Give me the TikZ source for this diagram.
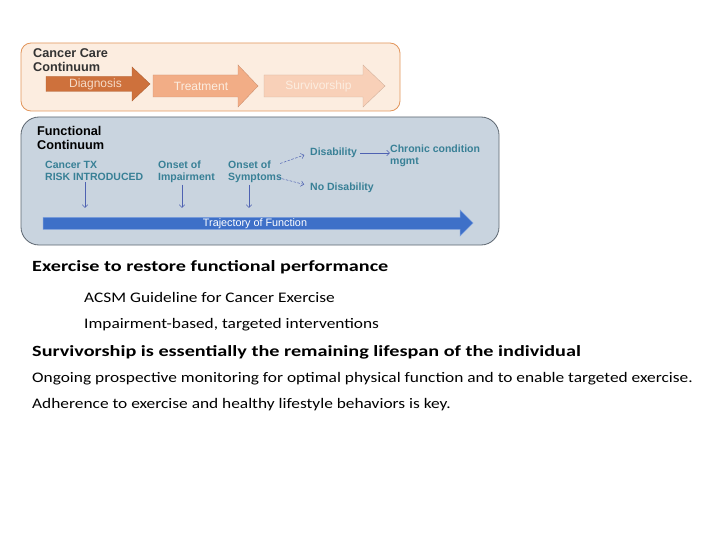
\documentclass[tikz,border=0pt]{standalone}
\usepackage{fontspec}
\setmainfont{Carlito}
\newfontfamily\arialfont{Liberation Sans}
\newfontfamily\headfont[FakeStretch=1.295]{Carlito}
\newfontfamily\bodyfont[FakeStretch=1.188]{Carlito}
\usetikzlibrary{arrows.meta,positioning}

\definecolor{carebg}{RGB}{252,237,224}
\definecolor{careline}{RGB}{226,150,92}
\definecolor{diagfill}{RGB}{206,113,60}
\definecolor{treatfill}{RGB}{242,173,134}
\definecolor{survfill}{RGB}{248,208,184}
\definecolor{funcbg}{RGB}{201,212,223}
\definecolor{funcline}{RGB}{92,102,112}
\definecolor{labteal}{RGB}{56,128,150}
\definecolor{linkblue}{RGB}{78,98,178}
\definecolor{trajfill}{RGB}{62,112,200}
\definecolor{trajline}{RGB}{125,160,222}

\begin{document}
\begin{tikzpicture}[x=1pt,y=-1pt,>={Straight Barb[length=3pt,width=5.5pt]},
  panel/.style={line width=0.8pt,inner sep=0pt},
  paneltitle/.style={anchor=north west,align=left,inner sep=0pt,font=\arialfont\bfseries\fontsize{12.7}{14}\selectfont},
  chevtext/.style={inner sep=0pt,font=\arialfont\fontsize{12}{14}\selectfont},
  stagelabel/.style={anchor=north west,align=left,inner sep=0pt,text=labteal,font=\arialfont\bfseries\fontsize{10.5}{12}\selectfont},
  link/.style={->,draw=linkblue,line width=0.5pt},
  headline/.style={anchor=base west,inner sep=0pt,font=\headfont\bfseries\fontsize{15.6}{18}\selectfont},
  bodyline/.style={anchor=base west,inner sep=0pt,font=\bodyfont\fontsize{14.6}{17}\selectfont}]
\useasboundingbox (0,0) rectangle (720,540);

% cancer care continuum
\node[panel,draw=careline,fill=carebg,rounded corners=10pt,minimum width=379pt,minimum height=68pt] (care) at (210.5,77) {};
\node[paneltitle,text=black!80] (care_t) at (33,48) {Cancer Care\\Continuum};
\filldraw[fill=diagfill,draw=diagfill!85!black,line width=0.4pt] (46,76.5) -- (132,76.5) -- (132,67) -- (150,84) -- (132,101) -- (132,91.5) -- (46,91.5) -- cycle;
\node[chevtext,text=carebg!85!diagfill] (diag) at (95.5,84) {Diagnosis};
\filldraw[fill=treatfill,draw=treatfill!85!black,line width=0.4pt] (153,75) -- (238,75) -- (238,65) -- (258,86) -- (238,107) -- (238,97) -- (153,97) -- cycle;
\node[chevtext,text=carebg] (treat) at (201,86.5) {Treatment};
\filldraw[fill=survfill,draw=survfill!85!black,line width=0.4pt] (264,75) -- (363,75) -- (363,65) -- (385,86) -- (363,107) -- (363,97) -- (264,97) -- cycle;
\node[chevtext,text=carebg] (surv) at (318.5,86.5) {Survivorship};

% functional continuum
\node[panel,draw=funcline,fill=funcbg,rounded corners=18pt,minimum width=478pt,minimum height=128pt] (func) at (260,181) {};
\node[paneltitle,text=black] (func_t) at (37,126) {Functional\\Continuum};
\node[stagelabel] (tx) at (45,160.5) {Cancer TX\\RISK INTRODUCED};
\node[stagelabel] (imp) at (158,160.5) {Onset of\\Impairment};
\node[stagelabel] (sym) at (228,160.5) {Onset of\\Symptoms};
\node[stagelabel,anchor=west] (dis) at (310,153) {Disability};
\node[stagelabel,anchor=west] (nodis) at (310,188) {No Disability};
\node[stagelabel] (chron) at (390,144.5) {Chronic condition\\mgmt};

\filldraw[fill=trajfill,draw=trajline,line width=0.5pt] (43,217.5) -- (460,217.5) -- (460,210) -- (473,223) -- (460,236) -- (460,229.5) -- (43,229.5) -- cycle;
\node[inner sep=0pt,text=white,font=\arialfont\fontsize{10.8}{12}\selectfont] (traj) at (255,223.5) {Trajectory of Function};

\coordinate (tx_to) at (85,208);
\coordinate (imp_to) at (182,208);
\coordinate (sym_to) at (249,208);
\draw[link] (tx.south -| tx_to) ++(0,2) -- (tx_to);
\draw[link] (imp.south -| imp_to) ++(0,2) -- (imp_to);
\draw[link] (sym.south -| sym_to) ++(0,2) -- (sym_to);
\draw[link,dashed,dash pattern=on 2.5pt off 1.5pt,shorten >=6pt] (sym.north east) ++(-2,3) -- (dis.west);
\draw[link,dashed,dash pattern=on 2.5pt off 1.5pt,shorten >=6pt] (sym.south east) ++(-4,-5) -- ([yshift=2pt]nodis.west);
\draw[link,shorten <=3pt] (dis) -- (chron.west |- dis);

% text below
\node[headline] (ex_h) at (32,271.7) {Exercise to restore functional performance};
\node[bodyline] (ex_1) at (84,302.3) {ACSM Guideline for Cancer Exercise};
\node[bodyline] (ex_2) at (84,328.5) {Impairment-based, targeted interventions};
\node[headline] (sv_h) at (32,356) {Survivorship is essentially the remaining lifespan of the individual};
\node[bodyline] (sv_1) at (32,382.8) {Ongoing prospective monitoring for optimal physical function and to enable targeted exercise.};
\node[bodyline] (sv_2) at (32,408) {Adherence to exercise and healthy lifestyle behaviors is key.};
\end{tikzpicture}
\end{document}
